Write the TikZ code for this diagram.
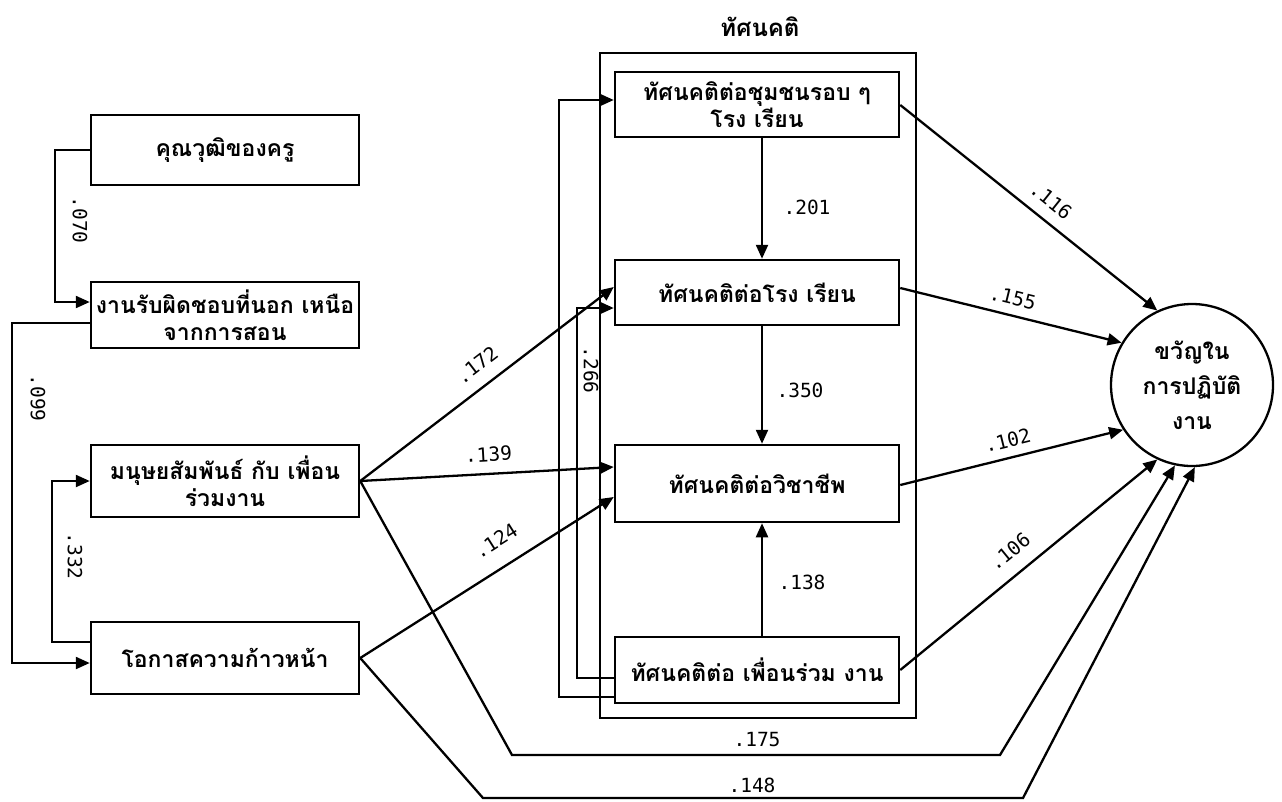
\documentclass[tikz,border=0pt]{standalone}
\usepackage{fontspec}
\newfontfamily\thai[Script=Thai]{Loma}
\newfontfamily\nums{DejaVu Sans Mono}
\usetikzlibrary{arrows.meta}
\begin{document}
\begin{tikzpicture}[x=1pt,y=-1pt,
  line width=2.3pt,
  box/.style={draw, rectangle, line width=2.5pt, inner sep=2pt, align=center,
    font=\thai\bfseries\fontsize{23}{27}\selectfont},
  arr/.style={line width=2.3pt, -{Triangle[length=14pt,width=12pt]}},
  lab/.style={font=\nums\fontsize{19.5}{22}\selectfont, inner sep=1pt},
]
\useasboundingbox (0,0) rectangle (1282,801);
\fill[white] (0,0) rectangle (1282,801);

% left column
\node[box, minimum width=268pt, minimum height=70pt] (L1) at (225,150) {คุณวุฒิของครู};
\node[box, minimum width=268pt, minimum height=66pt] (L2) at (225,315) {งานรับผิดชอบที่นอก เหนือ\\จากการสอน};
\node[box, minimum width=268pt, minimum height=72pt] (L3) at (225,481) {มนุษยสัมพันธ์ กับ เพื่อน\\ร่วมงาน};
\node[box, minimum width=268pt, minimum height=72pt] (L4) at (225,658) {โอกาสความก้าวหน้า};

% group box and title
\node[draw, rectangle, line width=2.5pt, minimum width=316pt, minimum height=665pt] (G) at (758,385.5) {};
\node[font=\thai\bfseries\fontsize{24}{26}\selectfont] (T) at (760,27) {ทัศนคติ};

% middle column
\node[box, minimum width=284pt, minimum height=65pt] (M1) at (757,104.5) {ทัศนคติต่อชุมชนรอบ ๆ\\โรง เรียน};
\node[box, minimum width=284pt, minimum height=65pt] (M2) at (757,292.5) {ทัศนคติต่อโรง เรียน};
\node[box, minimum width=284pt, minimum height=77pt] (M3) at (757,483.5) {ทัศนคติต่อวิชาชีพ};
\node[box, minimum width=284pt, minimum height=66pt] (M4) at (757,670) {ทัศนคติต่อ เพื่อนร่วม งาน};

% outcome
\node[draw, circle, line width=2.3pt, minimum size=162pt, inner sep=0pt, align=center,
  font=\thai\bfseries\fontsize{23}{35}\selectfont] (C) at (1192,385) {ขวัญใน\\การปฏิบัติ\\งาน};

% left correlations
\draw[arr] (L1.west) -- ++(-35,0) |- ([yshift=13pt]L2.west);
\node[lab, rotate=-90] (n070) at (80,220) {.070};
\draw[arr] ([yshift=-8pt]L2.west) -- ++(-78,0) |- ([yshift=-5pt]L4.west);
\node[lab, rotate=-90] (n099) at (38,398) {.099};
\draw[arr] ([yshift=16pt]L4.west) -- ++(-38,0) |- (L3.west);
\node[lab, rotate=-90] (n332) at (75,556) {.332};

% left to middle
\draw[arr] (L3.east) -- node[lab, sloped, above=12pt, pos=0.51] (n172) {.172} ([yshift=5.5pt]M2.west);
\draw[arr] (L3.east) -- node[lab, sloped, above=10pt, pos=0.51] (n139) {.139} ([yshift=16.5pt]M3.west);
\draw[arr] (L4.east) -- node[lab, sloped, above=17pt, pos=0.59] (n124) {.124} ([yshift=-13.5pt]M3.west);

% within group
\draw[arr] ([xshift=5pt]M1.south) -- ([xshift=5pt]M2.north);
\node[lab] (n201) at (807,207) {.201};
\draw[arr] ([xshift=5pt]M2.south) -- ([xshift=5pt]M3.north);
\node[lab] (n350) at (800,390) {.350};
\draw[arr] ([xshift=5pt]M4.north) -- ([xshift=5pt]M3.south);
\node[lab] (n138) at (802,582) {.138};

% feedback from M4
\draw[arr] ([yshift=-8pt]M4.west) -- ++(-37,0) |- ([yshift=-15.5pt]M2.west);
\draw[arr] ([yshift=-27pt]M4.west) -- ++(-55,0) |- ([yshift=4.5pt]M1.west);
\node[lab, rotate=-90] (n266) at (591,370) {.266};

% middle to outcome
\draw[arr] ([yshift=-0.5pt]M1.east) -- node[lab, sloped, above=10pt, pos=0.54] (n116) {.116} (C.115);
\draw[arr] ([yshift=4.5pt]M2.east) -- node[lab, sloped, above=8pt, pos=0.49] (n155) {.155} (C.149);
\draw[arr] ([yshift=-1.5pt]M3.east) -- node[lab, sloped, above=8pt, pos=0.50] (n102) {.102} (C.213);
\draw[arr] (M4.east) -- node[lab, sloped, above=13pt, pos=0.48] (n106) {.106} (C.245);

% direct paths
\coordinate (a1) at (512,755);
\coordinate (a2) at (1000,755);
\coordinate (b1) at (483,798);
\coordinate (b2) at (1023,798);
\draw[arr] (L3.east) -- (a1) -- (a2) -- (C.258);
\node[lab] (n175) at (757,740) {.175};
\draw[arr] (L4.east) -- (b1) -- (b2) -- (C.272);
\node[lab] (n148) at (752,785) {.148};
\end{tikzpicture}
\end{document}
